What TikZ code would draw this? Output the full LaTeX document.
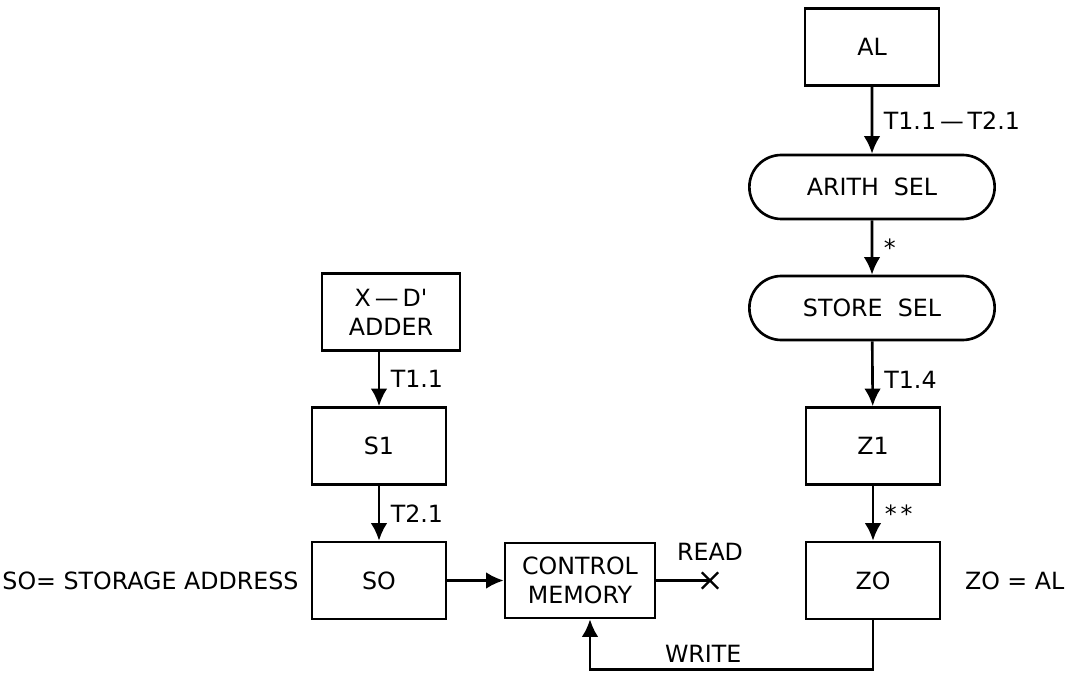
\documentclass[tikz,border=0pt]{standalone}
\usepackage{fontspec}
\setmainfont{DejaVu Sans}
\usetikzlibrary{shapes.misc, arrows.meta, positioning}

\begin{document}
\begin{tikzpicture}[
        font=\fontsize{13.5}{16.5}\selectfont,
        reg/.style={draw, line width=1.5pt, rectangle, minimum width=2.68cm, minimum height=1.54cm, align=center},
        sel/.style={draw, line width=1.5pt, rounded rectangle, minimum width=5.14cm, minimum height=1.28cm},
        flow/.style={line width=1.5pt, -{Latex[length=10pt, width=9.5pt]}},
        tag/.style={right, inner sep=6pt}
    ]
        \useasboundingbox (0,0) rectangle (21.48,-13.46);

        % Right column
        \node[reg] (al) at (17.44, -0.94) {AL};
        \node[sel] (arith) at (17.44, -3.74) {ARITH\ \ SEL};
        \node[sel] (store) at (17.44, -6.16) {STORE\ \ SEL};
        \node[reg] (zone) at (17.46, -8.92) {Z1};
        \node[reg] (zzero) at (17.46, -11.61) {ZO};

        % Left column
        \node[reg, minimum width=2.76cm] (adder) at (7.82, -6.24) {X\,---\,D\textquotesingle\\ADDER};
        \node[reg] (sone) at (7.58, -8.92) {S1};
        \node[reg] (szero) at (7.58, -11.61) {SO};
        \node[reg, minimum width=3.0cm, minimum height=1.5cm] (ctrl) at (11.6, -11.61) {CONTROL\\MEMORY};

        % Side notes
        \node[left=0.12cm of szero] (sonote) {SO= STORAGE\ ADDRESS};
        \node[right=0.35cm of zzero] (zonote) {ZO\ =\ AL};

        % Flow arrows with timing labels
        \draw[flow] (al) -- node[tag] {T1.1\,---\,T2.1} (arith);
        \draw[flow] (arith) -- node[tag] {\raisebox{-0.5ex}{*}} (store);
        \draw[flow] (store) -- node[tag, pos=0.6] {T1.4} (zone);
        \draw[flow] (zone) -- node[tag] {\raisebox{-0.5ex}{*\,*}} (zzero);
        \draw[flow] (adder.south -| sone.north) -- node[tag] {T1.1} (sone);
        \draw[flow] (sone) -- node[tag] {T2.1} (szero);
        \draw[flow] (szero) -- (ctrl);

        % Read and write
        \node[cross out, draw, line width=1.3pt, minimum size=8pt, inner sep=0pt] (readx) at (14.2, -11.61) {};
        \draw[line width=1.5pt] (ctrl) -- (readx.center);
        \node[above=0.12cm of readx] (readlbl) {READ};
        \draw[flow] (zzero.south) -- ++(0,-0.98) coordinate (wcorner)
            -| node[pos=0.3, above] {WRITE} ([xshift=0.2cm]ctrl.south);

    \end{tikzpicture}
\end{document}
